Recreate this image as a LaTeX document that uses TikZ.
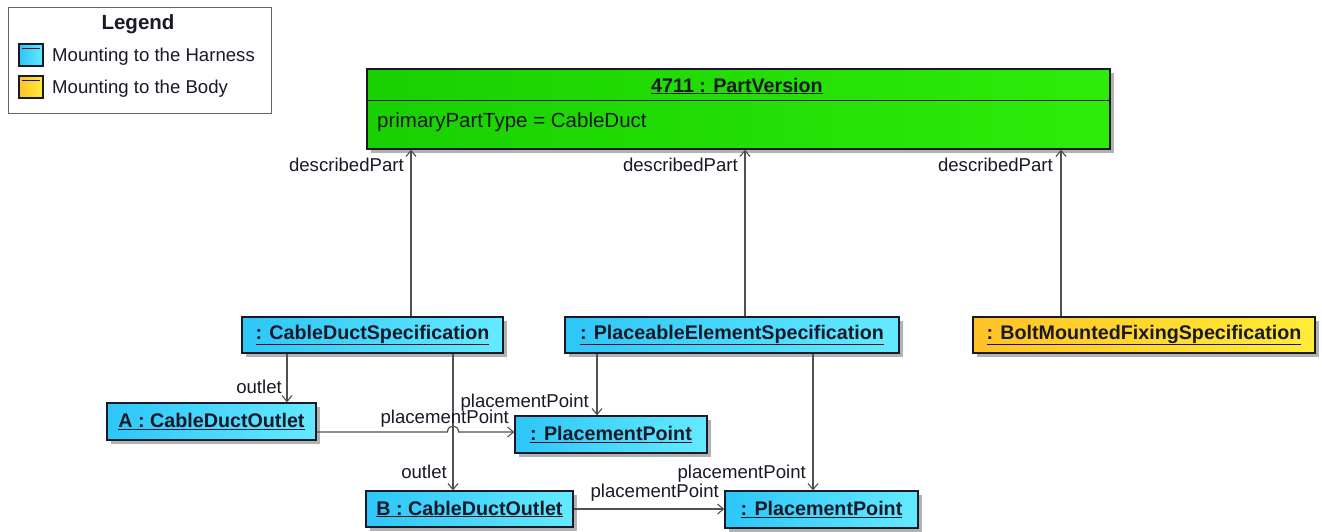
\documentclass[tikz,border=0pt]{standalone}
\usepackage{fontspec}
\setmainfont{Liberation Sans}
\usetikzlibrary{arrows.meta,shadows}
\definecolor{cyanL}{RGB}{45,198,248}
\definecolor{cyanR}{RGB}{100,234,255}
\definecolor{greenL}{RGB}{25,208,0}
\definecolor{greenR}{RGB}{45,236,10}
\definecolor{yelL}{RGB}{255,194,40}
\definecolor{yelR}{RGB}{255,236,55}
\definecolor{linec}{RGB}{80,80,80}
\definecolor{txt}{RGB}{25,25,40}
\begin{document}
\begin{tikzpicture}[x=1pt,y=-1pt,
  obj/.style={draw=txt, line width=1.3pt, inner sep=0pt, text=txt,
    font=\fontsize{19.7}{22}\selectfont\bfseries,
    drop shadow={shadow xshift=4pt,shadow yshift=-4pt,fill=black!30,opacity=1}},
  harness/.style={obj, left color=cyanL, right color=cyanR},
  bodybox/.style={obj, left color=yelL, right color=yelR},
  pvbox/.style={obj, left color=greenL, right color=greenR},
  lbl/.style={font=\fontsize{18.6}{20}\selectfont, text=txt, inner sep=0pt, anchor=base east},
  arr/.style={draw=linec, line width=1.2pt, -{Straight Barb[length=6pt,width=10pt,line width=1.1pt]}},
  swatch/.style={draw=txt, line width=1.2pt, inner sep=0pt, minimum width=24pt, minimum height=22pt}
]
\useasboundingbox (0,0) rectangle (1322,531);
\fill[white] (0,0) rectangle (1322,531);

% Legend
\node[draw=black!60, line width=1pt, fill=white, inner sep=0pt, minimum width=263pt, minimum height=106pt] (leg) at (139.5,60) {};
\node[anchor=base, inner sep=0pt, text=txt, font=\fontsize{20.5}{22}\selectfont\bfseries] (legt) at (138,29) {Legend};
\node[swatch, left color=cyanL, right color=cyanR] (sw1) at (31,55) {};
\draw[txt, line width=1.1pt] ([xshift=4pt,yshift=-5pt]sw1.north west) -- ([xshift=-4pt,yshift=-5pt]sw1.north east);
\node[anchor=base west, inner sep=0pt, text=txt, font=\fontsize{18.6}{20}\selectfont] (sw1t) at (52,61) {Mounting to the Harness};
\node[swatch, left color=yelL, right color=yelR] (sw2) at (31,87) {};
\draw[txt, line width=1.1pt] ([xshift=4pt,yshift=-5pt]sw2.north west) -- ([xshift=-4pt,yshift=-5pt]sw2.north east);
\node[anchor=base west, inner sep=0pt, text=txt, font=\fontsize{18.6}{20}\selectfont] (sw2t) at (52,93) {Mounting to the Body};

% PartVersion
\node[pvbox, minimum width=743pt, minimum height=80pt] (pv) at (738.5,109) {};
\draw[txt, line width=1.3pt] ([yshift=-32pt]pv.north west) -- ([yshift=-32pt]pv.north east);
\node[anchor=base, inner sep=0pt, text=txt, font=\fontsize{19.7}{22}\selectfont\bfseries] (pvt) at (737,92) {\underline{4711 : PartVersion}};
\node[anchor=base west, inner sep=0pt, text=txt, font=\fontsize{20.5}{22}\selectfont] (pva) at (377,127) {primaryPartType = CableDuct};

% Objects
\node[harness, minimum width=261pt, minimum height=36pt] (cds) at (372.5,335) {\underline{: CableDuctSpecification}};
\node[harness, minimum width=334pt, minimum height=36pt] (pes) at (732,335) {\underline{: PlaceableElementSpecification}};
\node[bodybox, minimum width=342pt, minimum height=36pt] (bmf) at (1144,335) {\underline{: BoltMountedFixingSpecification}};
\node[harness, minimum width=209pt, minimum height=37pt] (aout) at (211.5,421.5) {\underline{A : CableDuctOutlet}};
\node[harness, minimum width=192pt, minimum height=37pt] (pp1) at (611,434.5) {\underline{: PlacementPoint}};
\node[harness, minimum width=207pt, minimum height=36pt] (bout) at (469.5,509) {\underline{B : CableDuctOutlet}};
\node[harness, minimum width=193pt, minimum height=37pt] (pp2) at (821.5,509.5) {\underline{: PlacementPoint}};

% helper coordinates
\coordinate (x411) at (411,0);
\coordinate (x745) at (745,0);
\coordinate (x1061) at (1061,0);
\coordinate (x287) at (287,0);
\coordinate (x453) at (453,0);
\coordinate (x597) at (597,0);
\coordinate (x813) at (813,0);
\coordinate (y432) at (0,432);
\coordinate (y509) at (0,509);
\coordinate (j1) at (447.5,432);
\coordinate (j2) at (458.5,432);
\coordinate (jc1) at (447.5,424);
\coordinate (jc2) at (458.5,424);

% Connectors
\draw[arr] (cds.north -| x411) -- (pv.south -| x411);
\draw[arr] (pes.north -| x745) -- (pv.south -| x745);
\draw[arr] (bmf.north -| x1061) -- (pv.south -| x1061);
\draw[arr] (cds.south -| x287) -- (aout.north -| x287);
\draw[arr] (cds.south -| x453) -- (bout.north -| x453);
\draw[arr] (pes.south -| x597) -- (pp1.north -| x597);
\draw[arr] (pes.south -| x813) -- (pp2.north -| x813);
\draw[arr] (aout.east |- y432) -- (j1) .. controls (jc1) and (jc2) .. (j2) -- (pp1.west |- y432);
\draw[arr] (bout.east |- y509) -- (pp2.west |- y509);

% Labels
\node[lbl] (l1) at (404,171) {describedPart};
\node[lbl] (l2) at (738,171) {describedPart};
\node[lbl] (l3) at (1053,171) {describedPart};
\node[lbl] (l4) at (282,393) {outlet};
\node[lbl] (l5) at (447,478) {outlet};
\node[lbl] (l6) at (509,423) {placementPoint};
\node[lbl] (l7) at (589,407) {placementPoint};
\node[lbl] (l8) at (719,497) {placementPoint};
\node[lbl] (l9) at (806,478) {placementPoint};
\end{tikzpicture}
\end{document}
